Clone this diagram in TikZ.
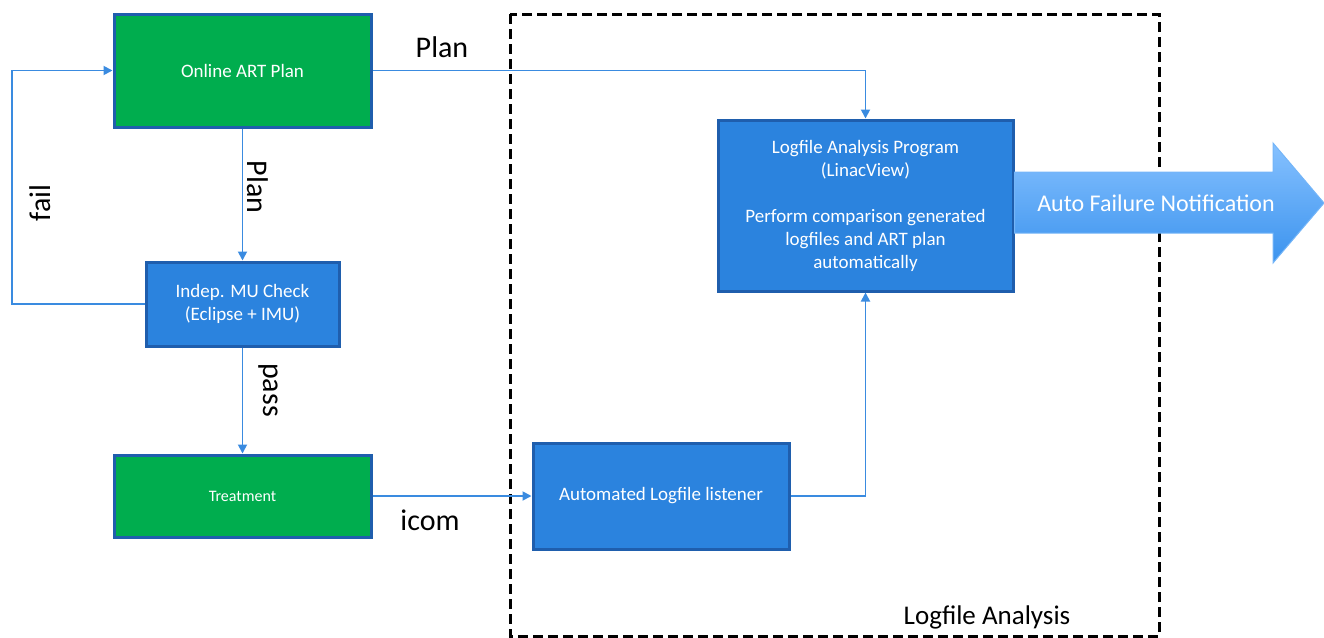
\documentclass[tikz,border=0pt]{standalone}
\usepackage{fontspec}
\setmainfont{Carlito}
\usetikzlibrary{positioning,arrows.meta}
\definecolor{artgreen}{HTML}{00AD4E}
\definecolor{artblue}{HTML}{2B83DE}
\definecolor{artedge}{HTML}{1F5EAD}
\definecolor{artline}{HTML}{3A8BE0}
\definecolor{notetop}{HTML}{86C1FF}
\definecolor{notebot}{HTML}{3B93EE}
\tikzset{
  box/.style={draw=artedge, line width=3pt, text=white, align=center,
    inner sep=0pt, font=\fontsize{19}{23}\selectfont},
  greenbox/.style={box, fill=artgreen},
  bluebox/.style={box, fill=artblue},
  link/.style={draw=artline, line width=1.8pt, -{Triangle[length=9pt,width=9pt]}},
  lbl/.style={font=\fontsize{30}{34}\selectfont, inner sep=0pt},
}
\begin{document}
\begin{tikzpicture}[x=1pt, y=-1pt]
    \useasboundingbox (0,0) rectangle (1324,637);
    % analysis frame
    \draw[line width=3pt, dash pattern=on 10pt off 5pt] (510,14) rectangle (1159,636);
    \node[lbl, font=\fontsize{27}{30}\selectfont] (frame) at (987,617) {Logfile Analysis};
    % boxes
    \node[greenbox, minimum width=257pt, minimum height=113pt] (plan) at (242.5,70.5) {Online ART Plan};
    \node[bluebox, minimum width=193pt, minimum height=84pt] (mu) at (242.5,304) {Indep. MU Check\\(Eclipse + IMU)};
    \node[greenbox, minimum width=257pt, minimum height=82pt, font=\fontsize{16}{19}\selectfont] (treat) at (242.5,496) {Treatment};
    \node[bluebox, minimum width=256pt, minimum height=106pt] (listen) at (661,496) {Automated Logfile listener};
    \node[bluebox, minimum width=295pt, minimum height=171pt] (prog) at (865.5,205.5)
        {Logfile Analysis Program\\(LinacView)\\[23pt]Perform comparison generated\\logfiles and ART plan\\automatically};
    % notification arrow
    \coordinate (tip) at (1324,203);
    \shade[top color=notetop, bottom color=notebot, draw=notetop!80!artblue, line width=1pt]
        (prog.east |- 0,172) -- (1273,172) -- (1273,143) -- (tip)
        -- (1273,263) -- (1273,233) -- (prog.east |- 0,233) -- cycle;
    \node[text=white, font=\fontsize{24}{28}\selectfont, inner sep=0pt] (notify) at (1156,203) {Auto Failure Notification};
    % connectors
    \coordinate (failx) at (12,0);
    \draw[link] (plan.east) -| (prog.north);
    \draw[link] (plan.south) -- (mu.north);
    \draw[link] (mu.west) -| (failx |- mu.west) |- (plan.west);
    \draw[link] (mu.south) -- (treat.north);
    \draw[link] (treat.east) -- (listen.west);
    \draw[link] (listen.east) -| (prog.south);
    % labels
    \node[lbl] (lplan) at (442,47) {Plan};
    \node[lbl, rotate=-90] (lplan2) at (258,187) {Plan};
    \node[lbl, rotate=90] (lfail) at (40,203) {fail};
    \node[lbl, rotate=-90] (lpass) at (268,390) {pass};
    \node[lbl] (licom) at (430,520) {icom};
\end{tikzpicture}
\end{document}
